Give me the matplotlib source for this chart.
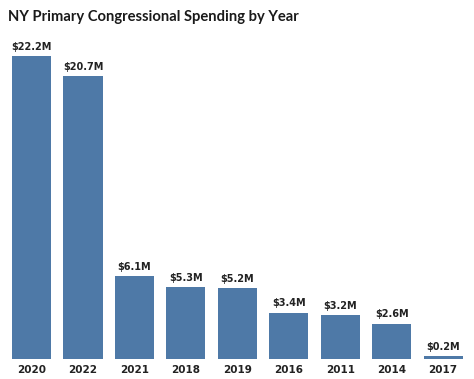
import matplotlib
matplotlib.use("Agg")
import matplotlib.pyplot as plt
import numpy as np

years = ["2020", "2022", "2021", "2018", "2019", "2016", "2011", "2014", "2017"]
spending = [22.2, 20.7, 6.1, 5.3, 5.2, 3.4, 3.2, 2.6, 0.2]
bar_color = "#4e79a7"


def main():
    fig = plt.figure(figsize=(4.74, 3.79), dpi=100)
    ax = fig.add_axes([5.8 / 474, 20 / 379, 463 / 474, 327.6 / 379])

    x = np.arange(len(years))
    bars = ax.bar(x, spending, width=0.76, color=bar_color)
    for b, v in zip(bars, spending):
        ax.text(b.get_x() + b.get_width() / 2, v + 0.3, "\\$%.1fM" % v,
                ha="center", va="bottom", fontsize=7, fontweight="bold",
                color="#222222")

    ax.set_xlim(-0.5, len(years) - 0.5)
    ax.set_ylim(0, 24)
    ax.set_xticks(x)
    ax.set_xticklabels(years, fontsize=7.5, fontweight="bold", color="#222222")
    ax.tick_params(axis="x", length=0, pad=4)
    ax.set_yticks([])
    for s in ax.spines.values():
        s.set_visible(False)

    fig.text(8 / 474, 1 - 17 / 379, "NY Primary Congressional Spending by Year",
             ha="left", va="center", fontsize=10.6, fontweight="bold",
             family=["Lato", "DejaVu Sans"], color="#1a1a1a")

    fig.savefig("out.png", dpi=100)


if __name__ == "__main__":
    main()
